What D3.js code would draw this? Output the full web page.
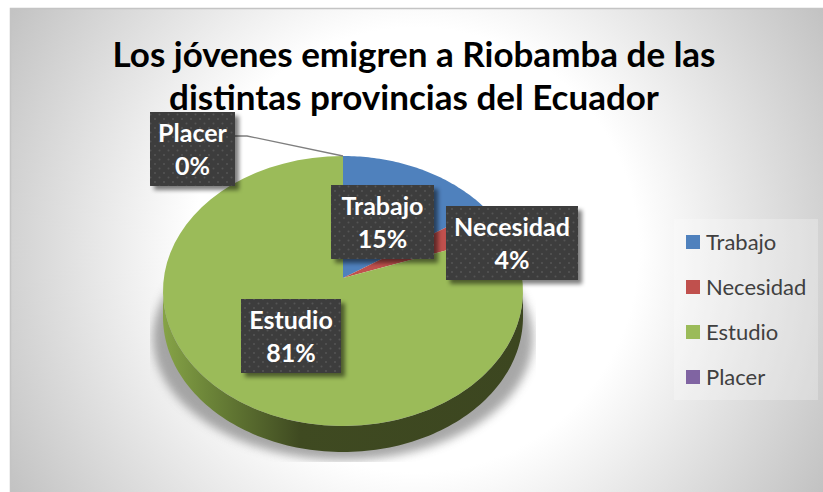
<!DOCTYPE html>
<html><head><meta charset="utf-8">
<style>html,body{margin:0;padding:0;background:#fff}svg{display:block}text{font-family:Lato,"Open Sans",sans-serif}</style>
<script src="https://cdn.jsdelivr.net/npm/d3@7"></script></head>
<body><svg id="c" width="823" height="492"></svg>
<script>
const titleLines = ["Los jóvenes emigren a Riobamba de las", "distintas provincias del Ecuador"];
const categories = ["Trabajo", "Necesidad", "Estudio", "Placer"];
const values = [15, 4, 81, 0];
const percentLabels = ["15%", "4%", "81%", "0%"];
const colors = ["#4f81bd", "#c0504d", "#9bbb59", "#8064a2"];

const svg = d3.select("#c");
const defs = svg.append("defs");
const F = {x: 10, y: 8, w: 813, h: 484};
const P = {cx: 343, cy: 291, rx: 180, ry: 135, apexY: 278, depth: 26};

const bg = defs.append("radialGradient").attr("id", "bg").attr("gradientUnits", "userSpaceOnUse")
  .attr("cx", 416).attr("cy", 250).attr("r", 473);
[[0, "#ffffff"], [0.47, "#ffffff"], [1, "#c2c2c2"]].forEach(s => bg.append("stop").attr("offset", s[0]).attr("stop-color", s[1]));
svg.append("rect").attr("x", F.x).attr("y", F.y).attr("width", F.w).attr("height", F.h)
  .attr("fill", "url(#bg)");
svg.append("path").attr("fill", "none").attr("stroke", "#c4c4c4").attr("stroke-width", 1.5)
  .attr("d", d3.line()([[F.x + 0.5, F.y + F.h], [F.x + 0.5, F.y + 0.5], [F.x + F.w, F.y + 0.5]]));

const blur = defs.append("filter").attr("id", "blur").attr("x", "-20%").attr("y", "-20%").attr("width", "140%").attr("height", "140%");
blur.append("feGaussianBlur").attr("stdDeviation", 5);
const bs = defs.append("filter").attr("id", "boxShadow").attr("x", "-20%").attr("y", "-20%").attr("width", "150%").attr("height", "150%");
bs.append("feGaussianBlur").attr("stdDeviation", 2.2);
defs.append("clipPath").attr("id", "shadowClip").append("rect").attr("x", 150).attr("y", 280).attr("width", 386).attr("height", 182);
const wall = defs.append("linearGradient").attr("id", "wall").attr("gradientUnits", "userSpaceOnUse")
  .attr("x1", 163).attr("x2", 523).attr("y1", 0).attr("y2", 0);
[[0, "#86a347"], [0.12, "#6d8639"], [0.38, "#3f4a21"], [1, "#3c4620"]].forEach(s => wall.append("stop").attr("offset", s[0]).attr("stop-color", s[1]));
const dots = defs.append("pattern").attr("id", "dots").attr("patternUnits", "userSpaceOnUse").attr("width", 9).attr("height", 9);
dots.append("rect").attr("width", 9).attr("height", 9).attr("fill", "#3d3d3d");
dots.append("circle").attr("cx", 2).attr("cy", 2).attr("r", 1).attr("fill", "#555");
dots.append("circle").attr("cx", 6.5).attr("cy", 6.5).attr("r", 1).attr("fill", "#555");

const sx = d3.scaleLinear().domain([-1, 1]).range([P.cx - P.rx, P.cx + P.rx]);
const sy = d3.scaleLinear().domain([-1, 1]).range([P.cy - P.ry, P.cy + P.ry]);
const line = d3.line();
const rimPoint = a => {
  // ray from the off-centre apex, hitting the perspective ellipse
  const dx = Math.sin(a), ddy = -Math.cos(a) * 0.9;
  const oy = (P.apexY - P.cy) / P.ry;
  const A = dx * dx + ddy * ddy, B = 2 * oy * ddy, C = oy * oy - 1;
  const t = (-B + Math.sqrt(B * B - 4 * A * C)) / (2 * A);
  return [sx(t * dx), sy(oy + t * ddy)];
};
const pieGen = d3.pie().sort(null).value(d => d);
const arcs = pieGen(values);
const sweep = (a0, a1) => d3.range(0, 61).map(i => rimPoint(a0 + (a1 - a0) * i / 60));

// shadow
svg.append("g").attr("clip-path", "url(#shadowClip)").append("ellipse")
  .attr("cx", P.cx).attr("cy", 338).attr("rx", 190).attr("ry", 122)
  .attr("fill", "#8a8a8a").attr("opacity", 0.75).attr("filter", "url(#blur)");
// wall
const wallPts = d3.range(0, 121).map(i => {
  const a = Math.PI * i / 120;
  return [sx(Math.cos(a)), sy(Math.sin(a))];
});
svg.append("path").attr("fill", "url(#wall)")
  .attr("d", line(wallPts.concat(wallPts.slice().reverse().map(p => [p[0], p[1] + P.depth]))) + "Z");
// top
const apex = [P.cx, P.apexY];
svg.append("g").selectAll("path").data(arcs).join("path")
  .attr("fill", (d, i) => colors[i])
  .attr("d", d => d.endAngle > d.startAngle ? line([apex].concat(sweep(d.startAngle, d.endAngle))) + "Z" : null);

// leader for Placer
const leaderEnd = rimPoint(0);
svg.append("path").attr("fill", "none").attr("stroke", "#7f7f7f").attr("stroke-width", 1.3)
  .attr("d", line([[235, 136], [247, 136], leaderEnd]));

// labels
const boxes = [[331, 185, 103, 74], [446, 206, 132, 74], [241, 299, 100, 74], [150, 112, 85, 74]];
const boxG = svg.append("g").selectAll("g").data(categories).join("g");
boxG.append("rect").attr("x", (d, i) => boxes[i][0] + 4).attr("y", (d, i) => boxes[i][1] + 4)
  .attr("width", (d, i) => boxes[i][2]).attr("height", (d, i) => boxes[i][3])
  .attr("fill", "#000").attr("opacity", 0.5).attr("filter", "url(#boxShadow)");
boxG.append("rect").attr("x", (d, i) => boxes[i][0]).attr("y", (d, i) => boxes[i][1])
  .attr("width", (d, i) => boxes[i][2]).attr("height", (d, i) => boxes[i][3]).attr("fill", "url(#dots)");
boxG.append("text").attr("x", (d, i) => boxes[i][0] + boxes[i][2] / 2).attr("y", (d, i) => boxes[i][1] + 30)
  .attr("text-anchor", "middle").attr("fill", "#fff").attr("font-weight", 700).attr("font-size", 25).text(d => d);
boxG.append("text").attr("x", (d, i) => boxes[i][0] + boxes[i][2] / 2).attr("y", (d, i) => boxes[i][1] + 63)
  .attr("text-anchor", "middle").attr("fill", "#fff").attr("font-weight", 700).attr("font-size", 25).text((d, i) => percentLabels[i]);

// legend
svg.append("rect").attr("x", 674).attr("y", 219).attr("width", 144).attr("height", 181).attr("fill", "#fff").attr("opacity", 0.25);
const ly = d3.scalePoint().domain(categories).range([242, 377]);
const lg = svg.append("g").selectAll("g").data(categories).join("g").attr("transform", d => `translate(0,${ly(d)})`);
lg.append("rect").attr("x", 686).attr("y", -7).attr("width", 14).attr("height", 14).attr("fill", (d, i) => colors[i]);
lg.append("text").attr("x", 706).attr("y", 8).attr("fill", "#404040").attr("font-size", 22).text(d => d);

// title
svg.append("g").selectAll("text").data(titleLines).join("text")
  .attr("x", 414).attr("y", (d, i) => 67 + i * 43).attr("text-anchor", "middle")
  .attr("fill", "#000").attr("font-weight", 700).attr("font-size", 35).text(d => d);
</script></body></html>
